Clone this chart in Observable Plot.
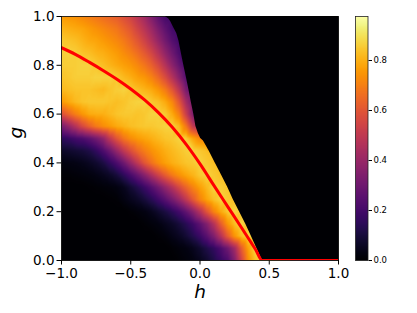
<!DOCTYPE html>
<html><head><meta charset="utf-8">
<script src="https://cdn.jsdelivr.net/npm/d3@7"></script>
<script src="https://cdn.jsdelivr.net/npm/@observablehq/plot@0.6"></script>
<style>
body{margin:0;background:#fff}
#wrap{position:relative;width:417px;height:313px;overflow:hidden}
#wrap svg{position:absolute;top:0}
</style>
</head><body><div id="wrap"></div>
<script>
// grid columns (h) and rows (g)
const hGrid = [-1.00,-0.95,-0.90,-0.85,-0.80,-0.75,-0.70,-0.65,-0.60,-0.55,
               -0.50,-0.45,-0.40,-0.35,-0.30,-0.25,-0.20,-0.15,-0.10,-0.05,
                0.00, 0.05, 0.10, 0.15, 0.20, 0.25, 0.30, 0.35, 0.40, 0.45,
                0.50, 1.00];
const gGrid = [0.00,0.05,0.10,0.15,0.20,0.25,0.30,0.35,0.40,0.45,0.50,
               0.55,0.60,0.65,0.70,0.75,0.80,0.85,0.90,0.95,1.00];

// values, one array per g row (h = hGrid)
const row_g000 = [0,0,0,0,0,0,0,0,0,0, 0,0,0,0,0,0,0,0.01,0.02,0.03, 0.05,0.08,0.12,0.17,0.22,0.35,0.55,0.74,0.84,0.87, 0.85,0];
const row_g005 = [0,0,0,0,0,0,0,0,0,0, 0,0,0,0,0,0,0.01,0.02,0.03,0.05, 0.08,0.12,0.16,0.22,0.3,0.42,0.62,0.78,0.875,0.85, 0.84,0];
const row_g010 = [0,0,0,0,0,0,0,0,0,0, 0,0,0,0,0.01,0.02,0.04,0.06,0.09,0.13, 0.18,0.25,0.34,0.47,0.62,0.75,0.83,0.875,0.84,0.82, 0,0];
const row_g015 = [0,0,0,0,0,0,0,0,0,0, 0,0,0.01,0.02,0.03,0.05,0.07,0.1,0.14,0.19, 0.26,0.35,0.47,0.62,0.75,0.83,0.875,0.84,0.82,0, 0,0];
const row_g020 = [0,0,0,0,0,0,0,0,0,0, 0.01,0.02,0.03,0.05,0.08,0.11,0.15,0.2,0.27,0.36, 0.47,0.6,0.71,0.79,0.85,0.875,0.84,0.82,0,0, 0,0];
const row_g025 = [0,0,0,0,0,0,0,0.005,0.01,0.03, 0.05,0.07,0.1,0.14,0.19,0.25,0.32,0.4,0.5,0.61, 0.71,0.78,0.83,0.87,0.85,0.83,0.82,0,0,0, 0,0];
const row_g030 = [0,0,0,0,0.005,0.01,0.015,0.02,0.03,0.05, 0.09,0.13,0.18,0.24,0.31,0.39,0.47,0.56,0.64,0.71, 0.77,0.82,0.87,0.86,0.84,0.82,0,0,0,0, 0,0];
const row_g035 = [0.01,0.01,0.015,0.02,0.025,0.035,0.05,0.07,0.1,0.15, 0.21,0.28,0.36,0.45,0.54,0.62,0.69,0.74,0.78,0.81, 0.85,0.87,0.85,0.83,0.82,0,0,0,0,0, 0,0];
const row_g040 = [0.025,0.03,0.035,0.045,0.06,0.08,0.11,0.16,0.22,0.3, 0.4,0.5,0.6,0.67,0.73,0.77,0.8,0.82,0.84,0.85, 0.87,0.85,0.83,0.82,0,0,0,0,0,0, 0,0];
const row_g045 = [0.07,0.08,0.09,0.1,0.12,0.16,0.22,0.3,0.4,0.5, 0.58,0.65,0.7,0.74,0.77,0.8,0.82,0.84,0.86,0.87, 0.85,0.83,0.82,0,0,0,0,0,0,0, 0,0];
const row_g050 = [0.15,0.17,0.2,0.22,0.26,0.31,0.38,0.5,0.6,0.68, 0.73,0.76,0.78,0.8,0.82,0.84,0.85,0.87,0.86,0.78, 0.72,0.7,0,0,0,0,0,0,0,0, 0,0];
const row_g055 = [0.32,0.39,0.47,0.56,0.63,0.69,0.73,0.76,0.79,0.81, 0.83,0.84,0.85,0.85,0.86,0.87,0.87,0.82,0.68,0.5, 0.45,0,0,0,0,0,0,0,0,0, 0,0];
const row_g060 = [0.58,0.64,0.7,0.75,0.79,0.8,0.8,0.82,0.84,0.85, 0.85,0.84,0.85,0.87,0.87,0.85,0.79,0.7,0.52,0.33, 0.3,0,0,0,0,0,0,0,0,0, 0,0];
const row_g065 = [0.76,0.79,0.82,0.84,0.85,0.85,0.85,0.84,0.83,0.84, 0.86,0.87,0.87,0.85,0.83,0.79,0.72,0.6,0.43,0.3, 0,0,0,0,0,0,0,0,0,0, 0,0];
const row_g070 = [0.82,0.83,0.84,0.84,0.84,0.83,0.82,0.84,0.86,0.87, 0.85,0.83,0.81,0.79,0.75,0.69,0.6,0.48,0.32,0.25, 0,0,0,0,0,0,0,0,0,0, 0,0];
const row_g075 = [0.84,0.85,0.86,0.86,0.86,0.87,0.87,0.87,0.85,0.82, 0.8,0.77,0.75,0.71,0.65,0.57,0.47,0.36,0.24,0.22, 0,0,0,0,0,0,0,0,0,0, 0,0];
const row_g080 = [0.86,0.86,0.86,0.87,0.87,0.85,0.83,0.81,0.79,0.77, 0.75,0.72,0.68,0.63,0.56,0.47,0.37,0.28,0.2,0, 0,0,0,0,0,0,0,0,0,0, 0,0];
const row_g085 = [0.86,0.87,0.86,0.84,0.83,0.81,0.8,0.78,0.76,0.73, 0.7,0.66,0.61,0.55,0.47,0.38,0.3,0.22,0.18,0, 0,0,0,0,0,0,0,0,0,0, 0,0];
const row_g090 = [0.85,0.84,0.83,0.81,0.79,0.78,0.76,0.74,0.72,0.69, 0.65,0.6,0.54,0.47,0.39,0.31,0.24,0.19,0.18,0, 0,0,0,0,0,0,0,0,0,0, 0,0];
const row_g095 = [0.81,0.8,0.79,0.78,0.76,0.74,0.72,0.7,0.68,0.64, 0.6,0.54,0.48,0.41,0.33,0.26,0.2,0.18,0,0, 0,0,0,0,0,0,0,0,0,0, 0,0];
const row_g100 = [0.76,0.75,0.74,0.72,0.7,0.68,0.66,0.64,0.62,0.58, 0.54,0.48,0.42,0.34,0.26,0.2,0.18,0,0,0, 0,0,0,0,0,0,0,0,0,0, 0,0];
const valueRows = [row_g000,row_g005,row_g010,row_g015,row_g020,row_g025,row_g030,
  row_g035,row_g040,row_g045,row_g050,row_g055,row_g060,row_g065,row_g070,
  row_g075,row_g080,row_g085,row_g090,row_g095,row_g100];

// right boundary of the nonzero region
const edgeG = [0,0.05,0.10,0.15,0.20,0.25,0.30,0.35,0.40,0.45,0.49,0.50,0.52,0.55,0.60,0.65,0.70,0.75,0.80,0.85,0.90,0.93,0.96,0.98,0.99,1.00];
const edgeH = [0.45,0.41,0.37,0.33,0.285,0.24,0.20,0.155,0.11,0.065,0.025,0.005,-0.012,-0.03,-0.045,-0.063,-0.08,-0.098,-0.117,-0.135,-0.152,-0.168,-0.195,-0.212,-0.225,-0.25];

// red critical line
const curveH = [-1,-0.9,-0.8,-0.7,-0.6,-0.5,-0.4,-0.3,-0.2,-0.1,0,0.1,0.2,0.3,0.4,0.45,0.5,0.6,0.7,0.8,0.9,1.0];
const curveG = [0.872,0.845,0.813,0.779,0.743,0.703,0.658,0.606,0.546,0.476,0.396,0.308,0.221,0.134,0.046,0,0,0,0,0,0,0];

const xTicks = [-1,-0.5,0,0.5,1];
const yTicks = [0,0.2,0.4,0.6,0.8,1.0];
const cbTicks = [0,0.2,0.4,0.6,0.8];
const vMax = 0.976;

const samples = [];
gGrid.forEach((g,i) => hGrid.forEach((h,j) => samples.push({h, g, v: valueRows[i][j]})));
const edge = edgeG.map((g,i) => ({g, h: edgeH[i]}));
const curve = curveH.map((h,i) => ({h, g: curveG[i]}));
const black = d3.interpolateInferno(0);

const main = Plot.plot({
  width: 417, height: 313,
  marginLeft: 61, marginRight: 79, marginTop: 16, marginBottom: 53,
  style: {fontFamily: "DejaVu Sans", fontSize: "13.5px", background: "transparent"},
  x: {domain: [-1, 1], ticks: xTicks, tickFormat: ".1f", tickSize: 4.5, tickPadding: 3.5, label: null},
  y: {domain: [0, 1], ticks: yTicks, tickFormat: ".1f", tickSize: 4.5, tickPadding: 2.5, label: null},
  color: {type: "linear", scheme: "inferno", domain: [0, vMax]},
  marks: [
    Plot.raster(samples, {x: "h", y: "g", fill: "v", interpolate: "barycentric"}),
    Plot.areaX(edge, {y: "g", x1: "h", x2: 1, fill: black}),
    Plot.line(curve, {x: "h", y: "g", stroke: "#f00", strokeWidth: 3, curve: "monotone-x", clip: true}),
    Plot.frame({stroke: "black", strokeWidth: 0.8}),
    Plot.text(["h"], {frameAnchor: "bottom", dy: 37, lineAnchor: "bottom", fontSize: 18.5, fontStyle: "italic", fill: "black"}),
    Plot.text(["g"], {frameAnchor: "left", dx: -39.5, rotate: -90, lineAnchor: "bottom", fontSize: 18.5, fontStyle: "italic", fill: "black"})
  ]
});
main.style.left = "0px";

const cbar = Plot.plot({
  width: 77, height: 313,
  marginLeft: 15, marginRight: 49.5, marginTop: 16, marginBottom: 53,
  style: {fontFamily: "DejaVu Sans", fontSize: "8.5px", background: "transparent"},
  x: {domain: [0, 1], axis: null},
  y: {domain: [0, vMax], ticks: cbTicks, tickFormat: ".1f", axis: "right", tickSize: 3.5, tickPadding: 2, label: null},
  color: {type: "linear", scheme: "inferno", domain: [0, vMax]},
  marks: [
    Plot.raster({fill: (x, y) => y, x1: 0, x2: 1, y1: 0, y2: vMax}),
    Plot.frame({stroke: "#222", strokeWidth: 0.8})
  ]
});
cbar.style.left = "340px";

const wrap = document.getElementById("wrap");
wrap.appendChild(main);
wrap.appendChild(cbar);
</script>
</body></html>
